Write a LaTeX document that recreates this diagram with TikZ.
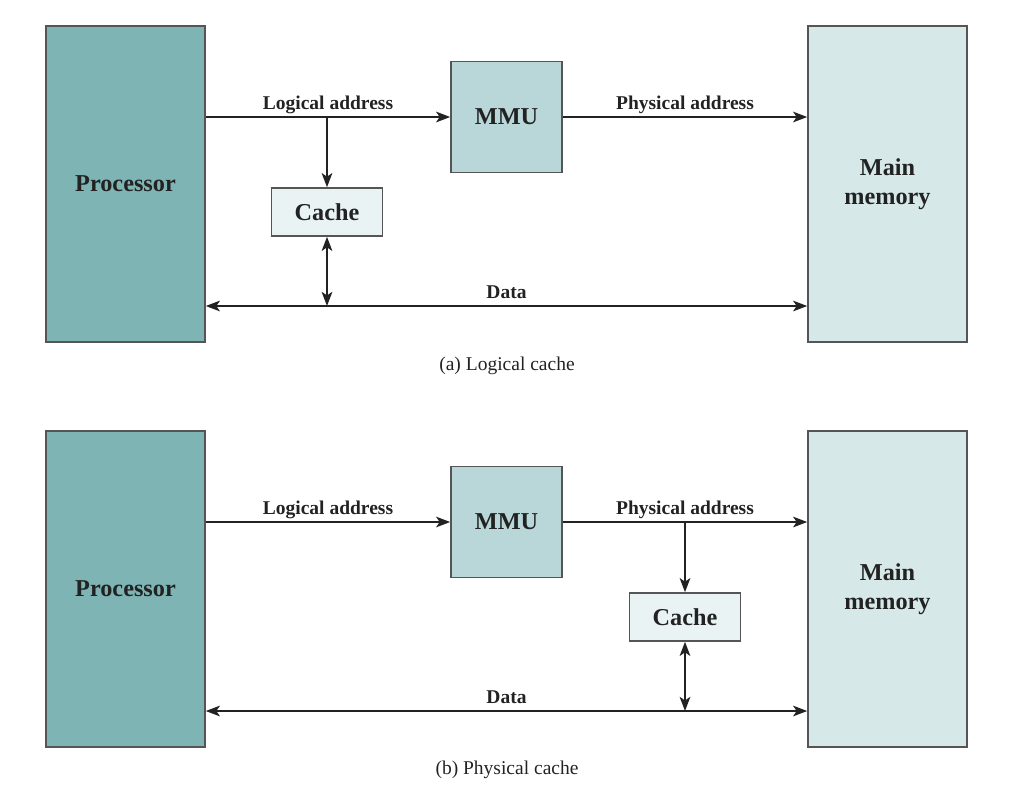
\documentclass[tikz,border=0pt]{standalone}
\usepackage{fontspec}
\setmainfont{Liberation Serif}
\usetikzlibrary{arrows.meta}
\usetikzlibrary{calc}
\definecolor{procfill}{HTML}{7FB4B4}
\definecolor{mmufill}{HTML}{B9D7D9}
\definecolor{memfill}{HTML}{D6E8E8}
\definecolor{cachefill}{HTML}{E9F3F4}
\definecolor{inkdark}{HTML}{222222}
\definecolor{boxline}{HTML}{555555}
\tikzset{
	block/.style={draw=boxline,line width=0.9pt,inner sep=0pt,align=center,text=inkdark,font=\fontsize{13.8}{16.5}\selectfont\bfseries},
	edge/.style={-{Stealth[length=8pt,width=6pt,inset=2pt]},line width=1.3pt,draw=inkdark},
	twoway/.style={{Stealth[length=8pt,width=6pt,inset=2pt]}-{Stealth[length=8pt,width=6pt,inset=2pt]},line width=1.3pt,draw=inkdark},
	lbl/.style={anchor=base,yshift=4.5pt,inner sep=0pt,text=inkdark,font=\fontsize{11.1}{13}\selectfont\bfseries},
	caption/.style={text=inkdark,font=\fontsize{11.1}{13}\selectfont}
}
\begin{document}
\begin{tikzpicture}[x=0.02cm,y=-0.02cm]
	\useasboundingbox (0,0) rectangle (1021,796);
	
	% (a) logical cache
	\node[block,fill=procfill,minimum width=3.18cm,minimum height=6.32cm] (procA) at (125.5,184) {Processor};
	\node[block,fill=memfill,minimum width=3.18cm,minimum height=6.32cm] (memA) at (887.5,184) {Main\\memory};
	\node[block,fill=mmufill,minimum width=2.22cm,minimum height=2.22cm] (mmuA) at (506.5,117) {MMU};
	\node[block,fill=cachefill,minimum width=2.22cm,minimum height=0.96cm] (cacheA) at (327,212) {Cache};
	\coordinate (splitA) at (327,117);
	\coordinate (busA) at (327,306);
	
	\draw[edge] (procA.east |- mmuA) -- node[lbl,midway] {Logical address} (mmuA.west);
	\draw[edge] (splitA) -- (cacheA.north);
	\draw[edge] (mmuA.east) -- node[lbl,midway] {Physical address} (memA.west |- mmuA);
	\draw[twoway] (procA.east |- busA) -- node[lbl,midway] {Data} (memA.west |- busA);
	\draw[twoway] (cacheA.south) -- (busA);
	\node[caption] (capA) at (507,366) {(a) Logical cache};
	
	% (b) physical cache
	\node[block,fill=procfill,minimum width=3.18cm,minimum height=6.32cm] (procB) at (125.5,589) {Processor};
	\node[block,fill=memfill,minimum width=3.18cm,minimum height=6.32cm] (memB) at (887.5,589) {Main\\memory};
	\node[block,fill=mmufill,minimum width=2.22cm,minimum height=2.22cm] (mmuB) at (506.5,522) {MMU};
	\node[block,fill=cachefill,minimum width=2.22cm,minimum height=0.96cm] (cacheB) at (685,617) {Cache};
	\coordinate (splitB) at (685,522);
	\coordinate (busB) at (685,711);
	
	\draw[edge] (procB.east |- mmuB) -- node[lbl,midway] {Logical address} (mmuB.west);
	\draw[edge] (mmuB.east) -- node[lbl,midway] {Physical address} (memB.west |- mmuB);
	\draw[edge] (splitB) -- (cacheB.north);
	\draw[twoway] (procB.east |- busB) -- node[lbl,midway] {Data} (memB.west |- busB);
	\draw[twoway] (cacheB.south) -- (busB);
	\node[caption] (capB) at (507,770) {(b) Physical cache};
\end{tikzpicture}
\end{document}
